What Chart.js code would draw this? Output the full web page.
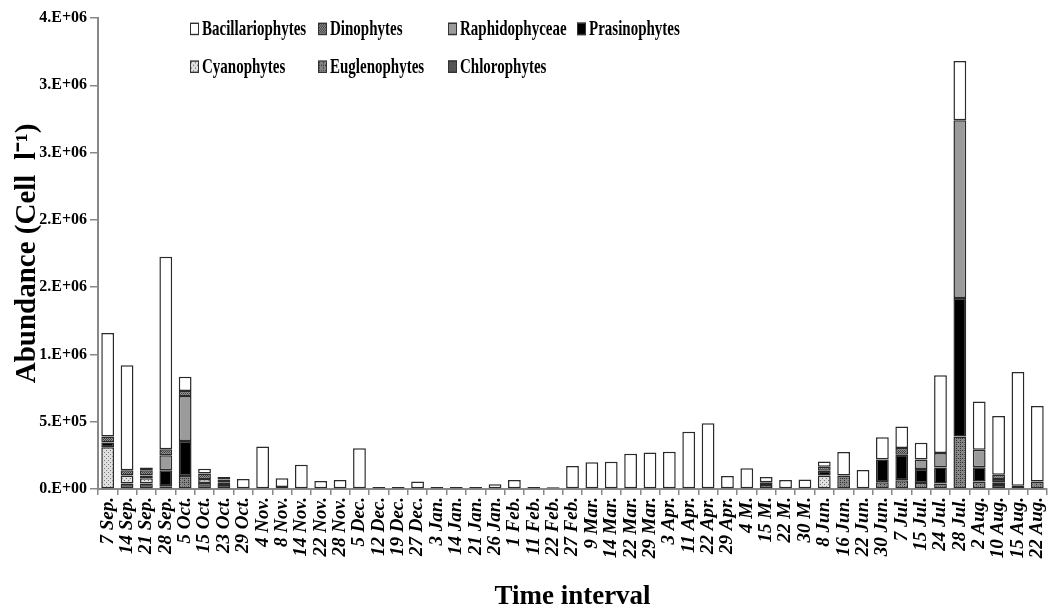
<!DOCTYPE html>
<html>
<head>
<meta charset="utf-8">
<script src="https://cdn.jsdelivr.net/npm/chart.js@4.4.1/dist/chart.umd.min.js"></script>
<style>
  html, body { margin: 0; padding: 0; background: #fff; }
  #wrap { position: relative; width: 1049px; height: 613px; }
  #legend {
    position: absolute; left: 190px; top: 10px;
    display: grid; grid-template-columns: 128px 130px 129px auto;
    font: bold 15px "Liberation Serif", serif; color: #000;
    transform: scaleY(1.4); transform-origin: top left;
  }
  .item { display: flex; align-items: center; height: 27px; white-space: nowrap; }
  .box { width: 7px; height: 7px; border: 1px solid #333; margin-right: 3px; }
</style>
</head>
<body>
<div id="wrap">
  <canvas id="chart" width="1049" height="613"></canvas>
  <div id="legend"></div>
</div>
<script>
// categories (sampling dates)
const labels = ['7 Sep.', '14 Sep.', '21 Sep.', '28 Sep.', '5 Oct.', '15 Oct.', '23 Oct.', '29 Oct.', '4 Nov.', '8 Nov.',
    '14 Nov.', '22 Nov.', '28 Nov.', '5 Dec.', '12 Dec.', '19 Dec.', '27 Dec.', '3 Jan.', '14 Jan.', '21 Jan.',
    '26 Jan.', '1 Feb.', '11 Feb.', '22 Feb.', '27 Feb.', '9 Mar.', '14 Mar.', '22 Mar.', '29 Mar.', '3 Apr.',
    '11 Apr.', '22 Apr.', '29 Apr.', '4 M.', '15 M.', '22 M.', '30 M.', '8 Jun.', '16 Jun.', '22 Jun.',
    '30 Jun.', '7 Jul.', '15 Jul.', '24 Jul.', '28 Jul.', '2 Aug.', '10 Aug.', '15 Aug.', '22 Aug.'];

// abundance, cell/l
const bacillariophytes = [770000, 780000, 20000, 1430000, 107000, 35000, 20000, 75000, 315000, 65000,
    180000, 60000, 67000, 302000, 14000, 14000, 55000, 14000, 14000, 14000,
    35000, 67000, 14000, 5000, 171000, 198000, 203000, 262000, 272000, 277000,
    426000, 488000, 97000, 154000, 40000, 67000, 70000, 40000, 175000, 141000,
    165000, 160000, 125000, 577000, 440000, 359000, 438000, 845000, 562000];
const dinophytes = [45000, 40000, 40000, 45000, 37000, 40000, 20000, 0, 0, 0,
    0, 0, 0, 0, 0, 0, 0, 0, 0, 0,
    0, 0, 0, 0, 0, 0, 0, 0, 0, 0,
    0, 0, 0, 0, 20000, 0, 0, 30000, 0, 0,
    0, 50000, 0, 0, 0, 0, 30000, 0, 0];
const raphidophyceae = [0, 0, 0, 110000, 334000, 0, 0, 0, 0, 0,
    0, 0, 0, 0, 0, 0, 0, 0, 0, 0,
    0, 0, 0, 0, 0, 0, 0, 0, 0, 0,
    0, 0, 0, 0, 0, 0, 0, 0, 0, 0,
    0, 0, 70000, 109000, 1320000, 129000, 0, 0, 0];
const prasinophytes = [35000, 0, 20000, 120000, 260000, 0, 0, 0, 0, 0,
    0, 0, 0, 0, 0, 0, 0, 0, 0, 0,
    0, 0, 0, 0, 0, 0, 0, 0, 0, 0,
    0, 0, 0, 0, 0, 0, 0, 35000, 0, 0,
    170000, 190000, 104000, 119000, 1030000, 107000, 25000, 0, 0];
const cyanophytes = [310000, 60000, 40000, 0, 0, 30000, 20000, 0, 0, 0,
    0, 0, 0, 0, 0, 0, 0, 0, 0, 0,
    0, 0, 0, 0, 0, 0, 0, 0, 0, 0,
    0, 0, 0, 0, 30000, 0, 0, 100000, 0, 0,
    0, 0, 0, 0, 0, 0, 20000, 0, 0];
const euglenophytes = [0, 0, 0, 20000, 97000, 0, 0, 0, 0, 0,
    0, 0, 0, 0, 0, 0, 0, 0, 0, 0,
    0, 0, 0, 0, 0, 0, 0, 0, 0, 0,
    0, 0, 0, 0, 0, 0, 0, 0, 100000, 0,
    50000, 65000, 45000, 40000, 390000, 55000, 0, 25000, 55000];
const chlorophytes = [0, 40000, 40000, 0, 0, 45000, 30000, 0, 0, 15000,
    0, 0, 0, 0, 0, 0, 0, 0, 0, 0,
    0, 0, 0, 10000, 0, 0, 0, 0, 0, 0,
    0, 0, 0, 0, 0, 0, 0, 0, 0, 0,
    0, 0, 0, 0, 0, 0, 30000, 0, 0];

const legendOrder = ['Bacillariophytes', 'Dinophytes', 'Raphidophyceae', 'Prasinophytes',
    'Cyanophytes', 'Euglenophytes', 'Chlorophytes'];

// small tile canvases for the excel-like hatch fills
function tile(bg, fg, size, dots) {
    const c = document.createElement('canvas');
    c.width = size; c.height = size;
    const g = c.getContext('2d');
    g.fillStyle = bg; g.fillRect(0, 0, size, size);
    g.fillStyle = fg;
    dots.forEach(d => g.fillRect(d[0], d[1], 1, 1));
    return c;
}
const ctx = document.getElementById('chart').getContext('2d');
const tiles = {
    Dinophytes: tile('#959595', '#3c3c3c', 2, [[0, 0], [1, 1]]),
    Cyanophytes: tile('#e0e0e0', '#777777', 4, [[0, 0], [2, 2]]),
    Euglenophytes: tile('#858585', '#333333', 4, [[0, 0], [2, 2], [0, 2]])
};
function fill(name, color) {
    return tiles[name] ? ctx.createPattern(tiles[name], 'repeat') : color;
}

// bottom of the stack first
const series = [
    { label: 'Chlorophytes', data: chlorophytes, color: '#555555' },
    { label: 'Euglenophytes', data: euglenophytes, color: '#777777' },
    { label: 'Cyanophytes', data: cyanophytes, color: '#cccccc' },
    { label: 'Prasinophytes', data: prasinophytes, color: '#000000' },
    { label: 'Raphidophyceae', data: raphidophyceae, color: '#9b9b9b' },
    { label: 'Dinophytes', data: dinophytes, color: '#707070' },
    { label: 'Bacillariophytes', data: bacillariophytes, color: '#ffffff' }
];

const datasets = series.map(s => ({
    label: s.label,
    data: s.data,
    backgroundColor: fill(s.label, s.color),
    borderColor: '#2a2a2a',
    borderWidth: c => (c.raw > 0 ? 1.5 : 0),
    borderSkipped: false,
    barPercentage: 0.66,
    categoryPercentage: 1
}));

function sci(v) {
    if (v === 0) return '0.E+00';
    let e = Math.floor(Math.log10(v));
    let m = Math.round(v / Math.pow(10, e));
    if (m === 10) { m = 1; e++; }
    return m + '.E+' + String(e).padStart(2, '0');
}

const serif = 'Liberation Serif';

new Chart(ctx, {
    type: 'bar',
    data: { labels: labels, datasets: datasets },
    options: {
        responsive: false,
        animation: false,
        layout: { padding: { top: 18, right: 2, bottom: 0, left: 0 } },
        plugins: { legend: { display: false }, tooltip: { enabled: false } },
        scales: {
            x: {
                stacked: true,
                grid: { drawOnChartArea: false, tickLength: 6, color: '#888', lineWidth: 1.5 },
                border: { color: '#888', width: 2 },
                ticks: {
                    autoSkip: false, maxRotation: 90, minRotation: 90, padding: 2, color: '#000',
                    font: { family: serif, size: 19, style: 'italic', weight: 'bold' }
                },
                title: {
                    display: true, text: 'Time interval', color: '#000',
                    font: { family: serif, size: 27, weight: 'bold' },
                    padding: { top: 0, bottom: 0 }
                },
                afterFit: s => { s.height = 124; s.paddingRight = 0; s.paddingLeft = 0; }
            },
            y: {
                stacked: true,
                min: 0,
                max: 3500000,
                grid: { drawOnChartArea: false, tickLength: 8, color: '#888', lineWidth: 1.5 },
                border: { color: '#888', width: 2 },
                ticks: {
                    stepSize: 500000, padding: 3, color: '#000', callback: sci,
                    font: { family: serif, size: 16, weight: 'bold' }
                },
                title: {
                    display: true, text: 'Abundance (Cell  l⁻¹)', color: '#000',
                    font: { family: serif, size: 29, weight: 'bold' },
                    padding: { top: 10, bottom: 0 }
                },
                afterFit: s => { s.width = 98; }
            }
        }
    }
});

// legend laid out in an excel-like grid
const legend = document.getElementById('legend');
legendOrder.forEach(name => {
    const s = series.find(x => x.label === name);
    const item = document.createElement('div');
    item.className = 'item';
    const box = document.createElement('span');
    box.className = 'box';
    if (tiles[name]) box.style.backgroundImage = 'url(' + tiles[name].toDataURL() + ')';
    else box.style.background = s.color;
    item.appendChild(box);
    item.appendChild(document.createTextNode(name));
    legend.appendChild(item);
});
</script>
</body>
</html>
